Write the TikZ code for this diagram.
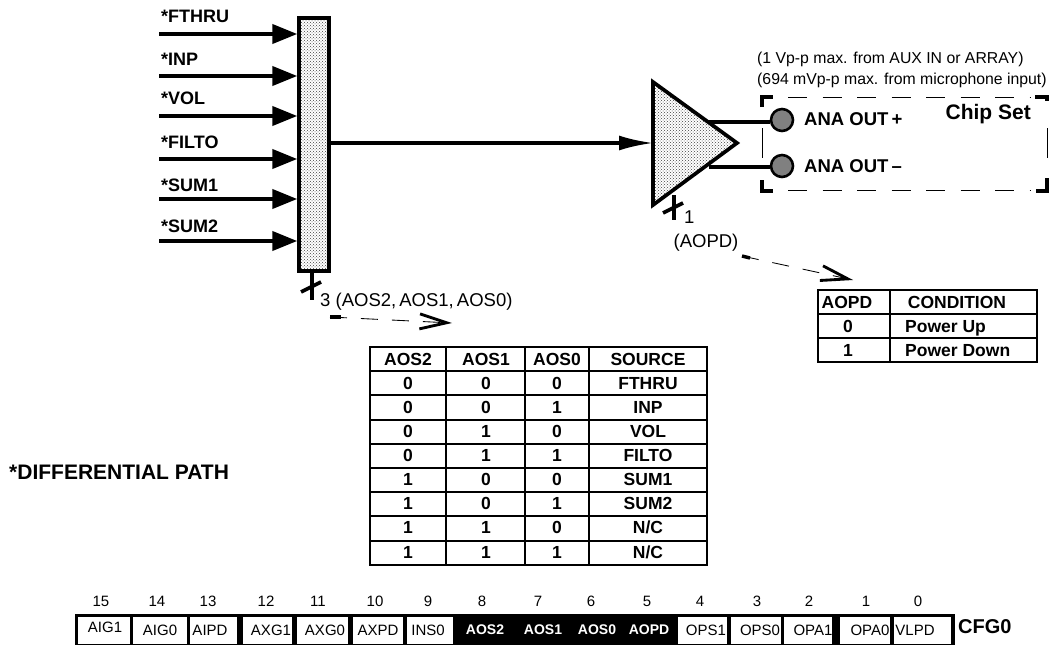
\documentclass[tikz,border=0pt]{standalone}
\usepackage{fontspec}
\setmainfont{Liberation Sans}
\usetikzlibrary{arrows.meta,patterns,calc}
\tikzset{
	thinmark/.style={font=\fontsize{18.5}{20}\selectfont,inner sep=0pt},
	notemark/.style={font=\fontsize{15.8}{18}\selectfont,inner sep=0pt},
	bitmark/.style={font=\fontsize{15}{17}\selectfont,inner sep=0pt},
	reglight/.style={font=\fontsize{15}{17}\selectfont,inner sep=0pt,text=black},
	regdark/.style={font=\fontsize{14}{17}\selectfont\bfseries,inner sep=0pt,text=white},
	tabletext/.style={font=\fontsize{17.5}{19}\selectfont\bfseries,inner sep=0pt,text height=12.5pt,text depth=0pt},
	bigtext/.style={tabletext,font=\fontsize{21}{23}\selectfont\bfseries},
	feed/.style={line width=1.4mm,-{Triangle[length=25pt,width=19pt]}},
	slashline/.style={line width=1.3mm},
	wire/.style={line width=1.3mm},
	hatched/.style={pattern=crosshatch dots,pattern color=black!75},
	hint/.style={line width=0.3mm,dash pattern=on 17pt off 14pt,-{Straight Barb[length=27pt,width=15pt,line width=1mm]}},
	hintstart/.style={line width=1.2mm},
	gridline/.style={line width=0.7mm},
	chipdash/.style={line width=0.3mm,dash pattern=on 19pt off 15.5pt},
	chipcorner/.style={line width=1.2mm},
	regcell/.style={fill=white,draw=none,inner sep=0pt,anchor=north west,minimum height=27pt},
	pinball/.style={circle,draw=black,line width=0.9mm,fill=black!50,inner sep=0pt,minimum size=22pt}
}
\begin{document}
\begin{tikzpicture}[x=1pt,y=-1pt]
		%%%%% START %%%%%
		\useasboundingbox (0,0) rectangle (1057,645);
		
		% source selector
		\node[hatched,draw=black,line width=1.2mm,inner sep=0pt,minimum width=30pt,minimum height=253pt] (mux) at (314,144.5) {};
		\foreach \i/\lbl/\ypos/\ylbl in {1/*FTHRU/34/16,2/*INP/76/59,3/*VOL/116/98,4/*FILTO/159/142,5/*SUM1/199/185,6/*SUM2/241/226} {
			\coordinate (in\i) at (159,\ypos);
			\node[tabletext,anchor=west,font=\fontsize{18}{20}\selectfont\bfseries] (lbl\i) at (161,\ylbl) {\lbl};
			\draw[feed] (in\i) -- (mux.west |- in\i);
		}
		
		\coordinate (muxtail) at (312,300);
		\draw[line width=1.1mm] (mux.south -| muxtail) -- (muxtail);
		\coordinate (muxsla) at (301,292);
		\coordinate (muxslb) at (321,282);
		\draw[slashline] (muxsla) -- (muxslb);
		\node[thinmark,anchor=west] (aoslbl) at (320,302) {3 (AOS2,\,AOS1,\,AOS0)};
		
		% amplifier
		\coordinate (ampa) at (653,82);
		\coordinate (ampb) at (653,205);
		\coordinate (amptip) at (737,143);
		\coordinate (ampin) at (653,143);
		\draw[hatched,draw=black,line width=1.3mm] (ampa) -- (amptip) -- (ampb) -- cycle;
		\draw[line width=1.1mm,-{Latex[length=34pt,width=15pt]}] (mux.east |- ampin) -- (ampin);
		
		\node[pinball] (outp) at (782,120) {};
		\node[pinball] (outn) at (782,166) {};
		\coordinate (ampoa) at (709,122);
		\coordinate (ampob) at (709,167);
		\draw[wire] (ampoa) -- (outp.west |- ampoa);
		\draw[wire] (ampob) -- (outn.west |- ampob);
		\node[tabletext,anchor=west,font=\fontsize{18.5}{20}\selectfont\bfseries] (outplbl) at (804,119) {ANA OUT\,+};
		\node[tabletext,anchor=west,font=\fontsize{18.5}{20}\selectfont\bfseries] (outnlbl) at (804,166) {ANA OUT\,--};
		
		\coordinate (amptail) at (674,220);
		\coordinate (ampsla) at (663,213);
		\coordinate (ampslb) at (683,203);
		\draw[line width=1.1mm] (674,195) -- (amptail);
		\draw[slashline] (ampsla) -- (ampslb);
		\node[thinmark,anchor=west] (ampnum) at (684,217) {1};
		\node[thinmark] (ampname) at (706,243) {(AOPD)};
		
		% chip boundary
		\node[notemark,anchor=west] (notea) at (757,59) {(1 Vp-p max. from AUX IN or ARRAY)};
		\node[notemark,anchor=west] (noteb) at (757,80) {(694 mVp-p max. from microphone input)};
		\draw[chipdash] (788,97) -- (1030,97);
		\draw[chipdash] (788,190) -- (1030,190);
		\draw[line width=0.3mm] (762,128) -- (762,158);
		\draw[line width=0.3mm] (1047,128) -- (1047,158);
		\draw[chipcorner] (762,107) -- (762,97) -- (773,97);
		\draw[chipcorner] (762,180) -- (762,191) -- (773,191);
		\draw[chipcorner] (1035,97) -- (1047,97) -- (1047,101);
		\draw[chipcorner] (1036,191) -- (1047,191) -- (1047,178);
		\node[tabletext,anchor=east,font=\fontsize{21}{23}\selectfont\bfseries] (chiplbl) at (1031,113) {Chip Set};
		
		% hints to the tables
		\draw[hint] (330,317) -- (452,323);
		\draw[hintstart] (330,317) -- (341,317);
		\draw[hint] (742,256) -- (853,280);
		\draw[hintstart] (742,256) -- (750,258);
		
		% source table
		\draw[gridline] (370,347) rectangle (707,565);
		\foreach \i in {1,...,8} {
			\draw[gridline] (370,347+24.2*\i) -- (707,347+24.2*\i);
		}
		\foreach \xpos in {446,525,589} {
			\draw[gridline] (\xpos,347) -- (\xpos,565);
		}
		\node[tabletext] (srchda) at (408,359) {AOS2};
		\node[tabletext] (srchdb) at (486,359) {AOS1};
		\node[tabletext] (srchdc) at (557,359) {AOS0};
		\node[tabletext] (srchdd) at (648,359) {SOURCE};
		\foreach \i/\bita/\bitb/\bitc/\src in {1/0/0/0/FTHRU,2/0/0/1/INP,3/0/1/0/VOL,4/0/1/1/FILTO,5/1/0/0/SUM1,6/1/0/1/SUM2,7/1/1/0/N\slash C,8/1/1/1/N\slash C} {
			\node[tabletext] (sa\i) at (408,359+24.1*\i) {\bita};
			\node[tabletext] (sb\i) at (486,359+24.1*\i) {\bitb};
			\node[tabletext] (sc\i) at (557,359+24.1*\i) {\bitc};
			\node[tabletext] (sd\i) at (648,359+24.1*\i) {\src};
		}
		
		% condition table
		\draw[gridline] (818,290) rectangle (1037,362);
		\draw[gridline] (818,314) -- (1037,314);
		\draw[gridline] (818,338) -- (1037,338);
		\draw[gridline] (890,290) -- (890,362);
		\node[tabletext] (condhda) at (847,302) {AOPD};
		\node[tabletext] (condhdb) at (957,302) {CONDITION};
		\node[tabletext] (conda) at (848,326) {0};
		\node[tabletext,anchor=west] (condb) at (905,326) {Power Up};
		\node[tabletext] (condc) at (848,350) {1};
		\node[tabletext,anchor=west] (condd) at (905,350) {Power Down};
		
		\node[bigtext,anchor=west] (difflbl) at (9,473) {*DIFFERENTIAL PATH};
		
		% CFG0 register
		\fill[black] (75,614) rectangle (955,645);
		\foreach \nm/\lft/\wid in {aa/78/52,ab/133/54,ac/190/47,ad/243/49,ae/297/51,af/353/50,ag/407/46,ah/678/49,ai/731/50,aj/784/48,ak/840/50,al/894/57} {
			\node[regcell,minimum width=\wid pt] (cell\nm) at (\lft,617) {};
		}
		\foreach \bitnum/\nm/\xnum/\xtxt/\ytxt/\look in {15/AIG1/101/105/627/reglight,14/AIG0/157/160/630/reglight,13/AIPD/208/210/630/reglight,12/AXG1/266/271/630/reglight,11/AXG0/318/325/630/reglight,10/AXPD/375/378/630/reglight,9/INS0/428/428/630/reglight,8/AOS2/482/485/630/regdark,7/AOS1/538/543/630/regdark,6/AOS0/591/597/630/regdark,5/AOPD/647/649/630/regdark,4/OPS1/700/706/630/reglight,3/OPS0/757/760/630/reglight,2/OPA1/809/813/630/reglight,1/OPA0/866/870/630/reglight,0/VLPD/918/915/630/reglight} {
			\node[bitmark] (bit\bitnum) at (\xnum,601) {\bitnum};
			\node[\look] (reg\bitnum) at (\xtxt,\ytxt) {\nm};
		}
		\node[tabletext,anchor=west,font=\fontsize{20}{22}\selectfont\bfseries] (cfglbl) at (958,627) {CFG0};
		
		%%%%% END %%%%%
	\end{tikzpicture}
\end{document}
